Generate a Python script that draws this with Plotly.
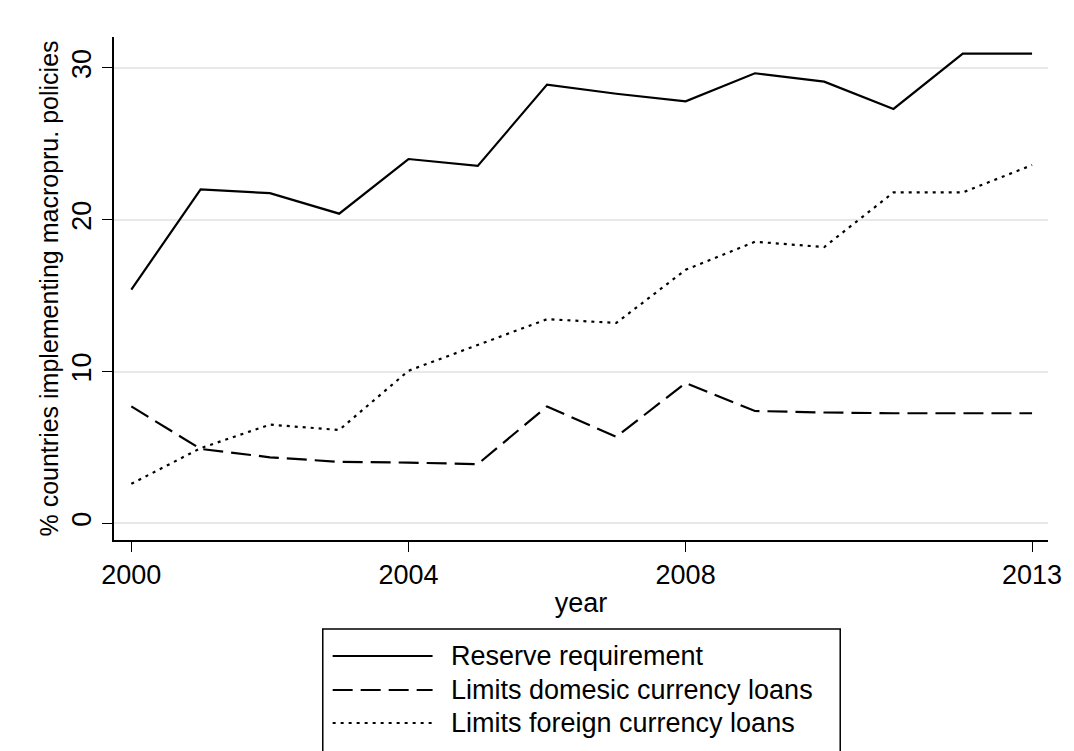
import plotly.graph_objects as go

# ---------------- data ----------------
years = list(range(2000, 2014))
reserve_requirement = [15.4, 22.0, 21.75, 20.4, 24.0, 23.55, 28.9, 28.3, 27.8, 29.65, 29.1, 27.3, 30.95, 30.95]
limits_domestic = [7.7, 4.9, 4.35, 4.05, 4.0, 3.9, 7.7, 5.7, 9.25, 7.4, 7.3, 7.25, 7.25, 7.25]
limits_foreign = [2.6, 4.95, 6.5, 6.15, 10.05, 11.75, 13.45, 13.2, 16.7, 18.55, 18.2, 21.8, 21.8, 23.6]
series_names = ["Reserve requirement", "Limits domesic currency loans", "Limits foreign currency loans"]
x_tick_vals = [2000, 2004, 2008, 2013]
y_tick_vals = [0, 10, 20, 30]

# ---------------- style ----------------
W, H = 1074, 751
ML, MR, MT, MB = 114, 16, 37, 211
FONT = "Liberation Sans, Arial, Helvetica, sans-serif"
dashes = ["solid", "20px,8px", "3px,5px"]
series_values = [reserve_requirement, limits_domestic, limits_foreign]

fig = go.Figure()
for name, vals, dash in zip(series_names, series_values, dashes):
    fig.add_trace(go.Scatter(
        x=years, y=vals, name=name, mode="lines",
        line=dict(color="black", width=2.2, dash=dash),
        showlegend=False,
    ))

# pixel -> paper helpers for the legend box
pw = W - ML - MR
ph = H - MT - MB
def px(x):
    return (x - ML) / pw
def py(y):
    return (H - MB - y) / ph

shapes = []
annotations = []
# legend frame (Stata-style legend below the plot, cut at the bottom of the page)
shapes.append(dict(type="rect", xref="paper", yref="paper",
                   x0=px(325), x1=px(848), y0=py(770), y1=py(629),
                   line=dict(color="black", width=1.5), fillcolor="white", layer="above"))
row_y = [656, 690, 723]
for name, dash, ry in zip(series_names, dashes, row_y):
    shapes.append(dict(type="line", xref="paper", yref="paper",
                       x0=px(335), x1=px(436), y0=py(ry), y1=py(ry),
                       line=dict(color="black", width=2, dash=dash), layer="above"))
    annotations.append(dict(xref="paper", yref="paper", x=px(453), y=py(ry),
                            xanchor="left", yanchor="middle", showarrow=False,
                            text=name, font=dict(family=FONT, size=27, color="black")))

fig.update_layout(
    width=W, height=H,
    margin=dict(l=ML, r=MR, t=MT, b=MB, pad=0),
    paper_bgcolor="white", plot_bgcolor="white",
    font=dict(family=FONT, size=27, color="black"),
    shapes=shapes, annotations=annotations,
    showlegend=False,
)
fig.update_xaxes(
    range=[1999.75, 2013.23],
    tickmode="array", tickvals=x_tick_vals, ticktext=[str(v) for v in x_tick_vals],
    showline=True, linecolor="black", linewidth=1.5,
    ticks="outside", ticklen=10, tickwidth=1.2, tickcolor="black",
    showgrid=False, zeroline=False,
    tickfont=dict(size=27),
    title=dict(text="year", font=dict(size=27), standoff=4),
)
fig.update_yaxes(
    range=[-1.1, 32.04],
    tickmode="array", tickvals=y_tick_vals, ticktext=[str(v) for v in y_tick_vals],
    tickangle=-90,
    showline=True, linecolor="black", linewidth=1.5,
    ticks="outside", ticklen=10, tickwidth=1.2, tickcolor="black",
    showgrid=True, gridcolor="#e8e8e8", gridwidth=1.5, zeroline=False,
    tickfont=dict(size=27),
    title=dict(text="% countries implementing macropru. policies", font=dict(size=25), standoff=2),
)

fig.write_html("out.html")
